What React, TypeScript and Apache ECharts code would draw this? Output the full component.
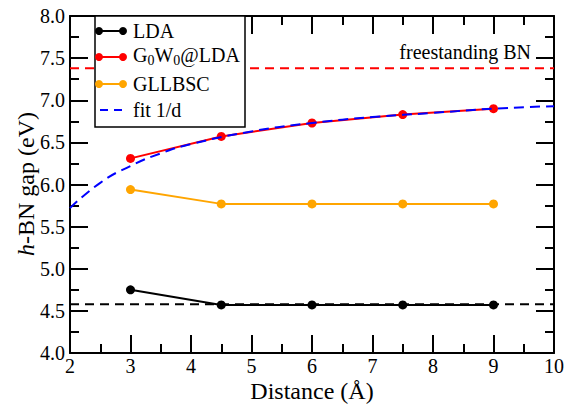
import React, { useEffect, useRef } from "react";
import * as echarts from "echarts";

const distances = [3, 4.5, 6, 7.5, 9];
const ldaGap = [4.75, 4.57, 4.57, 4.57, 4.57];
const g0w0Gap = [6.31, 6.57, 6.73, 6.83, 6.9];
const gllbscGap = [5.94, 5.77, 5.77, 5.77, 5.77];
const fitDistances = [2, 2.5, 3, 3.5, 4, 5, 6, 7, 8, 9, 10];
const fitGap = [5.72, 6.02, 6.22, 6.37, 6.48, 6.63, 6.73, 6.8, 6.85, 6.9, 6.93];
const refRange = [2, 10];
const freestandingGap = 7.38;
const ldaLimitGap = 4.58;
const xTicks = [2, 3, 4, 5, 6, 7, 8, 9, 10];
const yTicks = ["4.0", "4.5", "5.0", "5.5", "6.0", "6.5", "7.0", "7.5", "8.0"];
const xTitle = "Distance (Å)";
const yTitleItalic = "h";
const yTitleRest = "-BN gap (eV)";

const FONT = "Liberation Serif";

const pair = (xs: number[], ys: number[]) => xs.map((x, i) => [x, ys[i]]);

export default function App() {
  const ref = useRef<HTMLDivElement>(null);
  useEffect(() => {
    if (!ref.current) return;
    const chart = echarts.init(ref.current, undefined, { renderer: "svg" });
    const axisCommon = {
      type: "value" as const,
      axisLine: { show: true, onZero: false, lineStyle: { color: "#000", width: 2 } },
      axisTick: { show: true, inside: true, length: 18, lineStyle: { color: "#000", width: 2 } },
      minorTick: { show: true, splitNumber: 2, length: 9, lineStyle: { color: "#000", width: 2 } },
      splitLine: { show: false },
      axisLabel: { show: false },
    };
    const legendY = [31, 57, 84, 110];
    const legendItems = [
      { color: "#000", dots: true, dashed: false },
      { color: "#ff0000", dots: true, dashed: false },
      { color: "#ffa500", dots: true, dashed: false },
      { color: "#0000ff", dots: false, dashed: true },
    ];
    const g: any[] = [
      {
        type: "rect",
        shape: { x: 95, y: 16, width: 150, height: 111 },
        style: { fill: "#fff", stroke: "#000", lineWidth: 1.5 },
        z: 100,
      },
    ];
    legendItems.forEach((it, i) => {
      const y = legendY[i];
      g.push({
        type: "line",
        shape: it.dashed ? { x1: 100, y1: y, x2: 123, y2: y } : { x1: 99, y1: y, x2: 123, y2: y },
        style: { stroke: it.color, lineWidth: 2, lineDash: it.dashed ? [8, 6] : null },
        z: 101,
      });
      if (it.dots) {
        [99, 123].forEach((cx) =>
          g.push({
            type: "circle",
            shape: { cx, cy: y, r: 4 },
            style: { fill: it.color },
            z: 102,
          })
        );
      }
    });
    const ts = { fontFamily: FONT, fontSize: 20, fill: "#000" };
    g.push(
      { type: "text", x: 133, y: legendY[0], style: { ...ts, text: "LDA", verticalAlign: "middle" }, z: 103 },
      {
        type: "text",
        x: 133,
        y: legendY[1] - 12,
        style: {
          ...ts,
          text: "{n|G}{s|0}{n|W}{s|0}{n|@LDA}",
          verticalAlign: "top",
          rich: {
            n: { fontFamily: FONT, fontSize: 20, lineHeight: 22, verticalAlign: "top" },
            s: { fontFamily: FONT, fontSize: 14, lineHeight: 16, padding: [12, 0, 0, 0], verticalAlign: "bottom" },
          },
        },
        z: 103,
      },
      { type: "text", x: 133, y: legendY[2], style: { ...ts, text: "GLLBSC", verticalAlign: "middle" }, z: 103 },
      { type: "text", x: 133, y: legendY[3], style: { ...ts, text: "fit 1/d", verticalAlign: "middle" }, z: 103 },
      {
        type: "text",
        x: 531,
        y: 52,
        style: { ...ts, text: "freestanding BN", align: "right", verticalAlign: "middle" },
        z: 103,
      },
      {
        type: "text",
        x: 312,
        y: 391,
        style: { ...ts, fontSize: 24, text: xTitle, align: "center", verticalAlign: "middle" },
        z: 103,
      },
      {
        type: "text",
        x: 26,
        y: 184,
        rotation: Math.PI / 2,
        style: {
          ...ts,
          fontSize: 24,
          text: `{i|${yTitleItalic}}{n|${yTitleRest}}`,
          align: "center",
          verticalAlign: "middle",
          rich: {
            i: { fontFamily: FONT, fontSize: 24, fontStyle: "italic" },
            n: { fontFamily: FONT, fontSize: 24 },
          },
        },
        z: 103,
      }
    );

    const option: any = {
      animation: false,
      backgroundColor: "#fff",
      textStyle: { fontFamily: FONT, color: "#000" },
      grid: { left: 70, right: 14, top: 16, bottom: 51, containLabel: false, outerBoundsMode: "none" },
      xAxis: [
        { ...axisCommon, position: "bottom", min: 2, max: 10, interval: 1 },
        { ...axisCommon, position: "top", min: 2, max: 10, interval: 1 },
      ],
      yAxis: [
        { ...axisCommon, position: "left", min: 4, max: 8, interval: 0.5 },
        { ...axisCommon, position: "right", min: 4, max: 8, interval: 0.5 },
      ],
      series: [
        {
          type: "line",
          data: pair(refRange, [freestandingGap, freestandingGap]),
          symbol: "none",
          lineStyle: { color: "#ff0000", width: 2, type: [9, 6] },
          z: 2,
        },
        {
          type: "line",
          data: pair(refRange, [ldaLimitGap, ldaLimitGap]),
          symbol: "none",
          lineStyle: { color: "#000", width: 2, type: [9, 6] },
          z: 2,
        },
        {
          type: "line",
          data: pair(distances, ldaGap),
          symbol: "circle",
          symbolSize: 9,
          itemStyle: { color: "#000" },
          lineStyle: { color: "#000", width: 2 },
          z: 3,
        },
        {
          type: "line",
          data: pair(distances, gllbscGap),
          symbol: "circle",
          symbolSize: 9,
          itemStyle: { color: "#ffa500" },
          lineStyle: { color: "#ffa500", width: 2 },
          z: 3,
        },
        {
          type: "line",
          data: pair(distances, g0w0Gap),
          symbol: "circle",
          symbolSize: 9,
          itemStyle: { color: "#ff0000" },
          lineStyle: { color: "#ff0000", width: 2 },
          z: 3,
        },
        {
          type: "line",
          data: pair(fitDistances, fitGap),
          smooth: true,
          symbol: "none",
          lineStyle: { color: "#0000ff", width: 2, type: [10, 6] },
          z: 4,
        },
      ],
    };
    chart.setOption(option);

    // tick labels placed through the axes' own scales
    const xAxisY = chart.convertToPixel({ yAxisIndex: 0 }, 4) as number;
    const yAxisX = chart.convertToPixel({ xAxisIndex: 0 }, 2) as number;
    xTicks.forEach((v) => {
      const px = chart.convertToPixel({ xAxisIndex: 0 }, v) as number;
      g.push({
        type: "text",
        x: px,
        y: xAxisY + 3,
        style: { ...ts, text: String(v), align: "center", verticalAlign: "top" },
        z: 103,
      });
    });
    yTicks.forEach((label) => {
      const py = chart.convertToPixel({ yAxisIndex: 0 }, parseFloat(label)) as number;
      g.push({
        type: "text",
        x: yAxisX - 5,
        y: py,
        style: { ...ts, text: label, align: "right", verticalAlign: "middle" },
        z: 103,
      });
    });
    chart.setOption({ graphic: g });
    return () => chart.dispose();
  }, []);
  return <div ref={ref} style={{ position: "fixed", left: 0, top: 0, width: 568, height: 404 }} />;
}
